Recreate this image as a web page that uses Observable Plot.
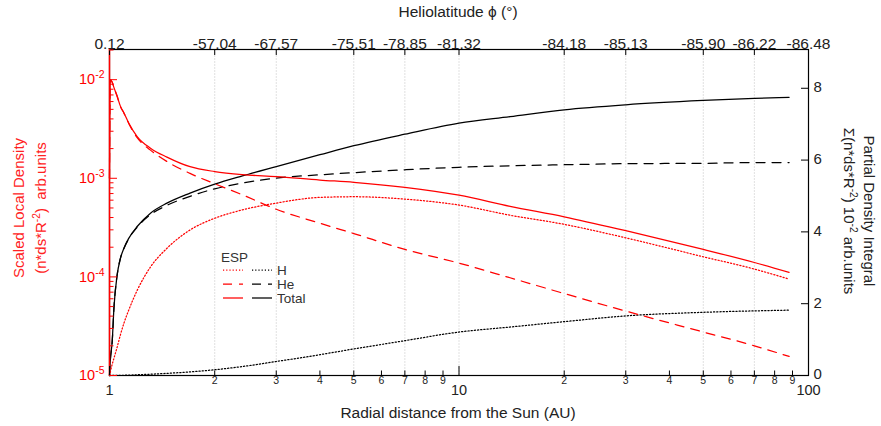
<!DOCTYPE html>
<html>
<head>
<meta charset="utf-8">
<script src="https://cdn.jsdelivr.net/npm/d3@7"></script>
<script src="https://cdn.jsdelivr.net/npm/@observablehq/plot@0.6"></script>
<style>
  body { margin: 0; background: #fff; }
  #chart { width: 881px; height: 426px; }
  #chart svg { display: block; }
</style>
</head>
<body>
<div id="chart"></div>
<script>
// Radial distance grid (AU) shared by every series
const radius = [1.0, 1.005, 1.018, 1.03, 1.05, 1.075, 1.1, 1.135, 1.2, 1.31, 1.46, 1.7,
                2.0, 2.4, 3.0, 4.0, 5.0, 7.0, 10, 14, 20, 30, 50, 70, 88];

// Scaled local density n*ds*R^-2 (left, log axis)
const densityH = [1.0e-5, 1.08e-5, 1.3e-5, 1.5e-5, 1.9e-5, 2.6e-5, 3.4e-5, 4.6e-5, 7.3e-5, 1.26e-4, 1.95e-4, 2.99e-4,
                  3.93e-4, 4.78e-4, 5.6e-4, 6.4e-4, 6.5e-4, 6.15e-4, 5.35e-4, 4.22e-4, 3.41e-4, 2.49e-4, 1.60e-4, 1.20e-4, 9.5e-5];
const densityHe = [1.0e-3, 1.0e-2, 9.4e-3, 8.3e-3, 6.9e-3, 5.33e-3, 4.57e-3, 3.6e-3, 2.58e-3, 1.93e-3, 1.48e-3, 1.12e-3,
                   8.8e-4, 6.8e-4, 4.85e-4, 3.5e-4, 2.75e-4, 1.9e-4, 1.38e-4, 9.8e-5, 6.78e-5, 4.5e-5, 2.76e-5, 2.0e-5, 1.56e-5];
const densityTotal = [1.0e-3, 1.0e-2, 9.4e-3, 8.3e-3, 6.9e-3, 5.36e-3, 4.6e-3, 3.64e-3, 2.65e-3, 2.02e-3, 1.64e-3, 1.31e-3,
                      1.17e-3, 1.09e-3, 1.04e-3, 9.6e-4, 9.1e-4, 8.1e-4, 6.75e-4, 5.2e-4, 4.07e-4, 2.94e-4, 1.90e-4, 1.40e-4, 1.11e-4];

// Partial density integral, units of 10^-2 (right, linear axis)
const integralH = [0, 0, 0.001, 0.002, 0.003, 0.005, 0.007, 0.01, 0.02, 0.035, 0.06, 0.1,
                   0.16, 0.25, 0.39, 0.58, 0.74, 0.97, 1.21, 1.35, 1.50, 1.66, 1.76, 1.80, 1.82];
const integralHe = [0, 0.4, 0.95, 1.9, 2.75, 3.27, 3.54, 3.81, 4.13, 4.48, 4.74, 4.99,
                    5.20, 5.36, 5.50, 5.59, 5.65, 5.73, 5.80, 5.84, 5.87, 5.90, 5.91, 5.93, 5.93];
const integralTotal = [0, 0.4, 0.95, 1.9, 2.75, 3.27, 3.55, 3.82, 4.15, 4.52, 4.80, 5.08,
                       5.33, 5.56, 5.82, 6.15, 6.40, 6.72, 7.03, 7.21, 7.40, 7.54, 7.66, 7.72, 7.75];

// Heliolatitude reached at selected distances (top axis)
const latitudeTicks = [1, 2, 3, 5, 7, 10, 20, 30, 50, 70, 100];
const latitudeLabels = ["0.12", "-57.04", "-67.57", "-75.51", "-78.85", "-81.32",
                        "-84.18", "-85.13", "-85.90", "-86.22", "-86.48"];

// Bottom axis ticks and labels
const radiusMajorTicks = [1, 10, 100];
const radiusMajorLabels = ["1", "10", "100"];
const radiusMinorTicks = [2, 3, 4, 5, 6, 7, 8, 9, 20, 30, 40, 50, 60, 70, 80, 90];
const radiusMinorLabels = ["2", "3", "4", "5", "6", "7", "8", "9", "2", "3", "4", "5", "6", "7", "8", "9"];

// Left and right axis ticks
const densityDecades = [1e-5, 1e-4, 1e-3, 1e-2];
const densityLabels = ["10^-5", "10^-4", "10^-3", "10^-2"];
const integralTicks = [0, 2, 4, 6, 8];
const integralLabels = ["0", "2", "4", "6", "8"];

// Vertical extent of the panel: the log density axis and the linear integral axis share it
const Y_MIN = 1e-5;
const Y_TOP = Math.pow(10, -1.694);
const DECADES = Math.log10(Y_TOP) - Math.log10(Y_MIN);
const INTEGRAL_MAX = 9.08;
const integralToY = v => Math.pow(10, Math.log10(Y_MIN) + v / INTEGRAL_MAX * DECADES);

const densityMinor = densityDecades.flatMap(d => [2, 3, 4, 5, 6, 7, 8, 9].map(k => k * d)).filter(v => v <= Y_TOP);

const RED = "#ff0000";
const INK = "#222";
const dash = {H: "1.2,2", He: "9,7", Total: null};

function series(values, species, toY) {
  return radius.map((r, i) => ({r, y: toY(values[i]), species}));
}
const densitySeries = [
  series(densityH, "H", v => v),
  series(densityHe, "He", v => v),
  series(densityTotal, "Total", v => v)
];
const integralSeries = [
  series(integralH, "H", integralToY),
  series(integralHe, "He", integralToY),
  series(integralTotal, "Total", integralToY)
];

const lineMark = (d, color) => Plot.line(d, {
  x: "r", y: "y", stroke: color, strokeWidth: 1.25,
  strokeDasharray: dash[d[0].species], curve: "monotone-x"
});

// inward tick marks: the tick is drawn outward from the frame, then shifted back inside
const ticksX = (values, anchor, size) => Plot.axisX(values, {
  anchor, tickSize: size, dy: anchor === "bottom" ? -size : size,
  tickFormat: () => "", label: null, color: "#000"
});
const ticksY = (values, anchor, size, color) => Plot.axisY(values, {
  anchor, tickSize: size, dx: anchor === "left" ? size : -size,
  tickFormat: () => "", label: null, color
});

const FONT = "'Liberation Sans', Arial, Helvetica, sans-serif";

const svg = Plot.plot({
  width: 881,
  height: 426,
  marginLeft: 109,
  marginRight: 73,
  marginTop: 49,
  marginBottom: 51,
  x: {type: "log", domain: [1, 100]},
  y: {type: "log", domain: [Y_MIN, Y_TOP]},
  style: {fontFamily: FONT, background: "#fff", color: INK},
  marks: [
    // light vertical grid at the heliolatitude ticks
    Plot.ruleX(latitudeTicks.slice(1, -1), {stroke: "#d9d9d9", strokeWidth: 0.8, strokeDasharray: "2,1"}),
    ...integralSeries.map(d => lineMark(d, "#000")),
    ...densitySeries.map(d => lineMark(d, RED)),
    Plot.frame({stroke: "#000", strokeWidth: 1.2}),
    Plot.ruleX([1], {stroke: RED, strokeWidth: 1.5}),

    // top axis: heliolatitude
    ticksX(latitudeTicks, "top", 5),
    Plot.text(latitudeTicks, {x: d => d, text: (d, i) => latitudeLabels[i], frameAnchor: "top",
      dy: -12, fontSize: 15.5, fill: INK}),

    // bottom axis: radial distance
    ticksX(radiusMinorTicks, "bottom", 4.5),
    ticksX(radiusMajorTicks, "bottom", 9),
    Plot.text(radiusMinorTicks, {x: d => d, text: (d, i) => radiusMinorLabels[i], frameAnchor: "bottom",
      dy: 8, fontSize: 10.5, fill: INK}),
    Plot.text(radiusMajorTicks, {x: d => d, text: (d, i) => radiusMajorLabels[i], frameAnchor: "bottom",
      dy: 19.5, fontSize: 14.5, fill: INK}),

    // left axis: density (red, log)
    ticksY(densityDecades, "left", 8, RED),
    ticksY(densityMinor, "left", 4.5, RED),
    Plot.text(densityDecades, {y: d => d, text: (d, i) => densityLabels[i], frameAnchor: "left",
      textAnchor: "end", dx: -5, fontSize: 14.5, fill: RED}),

    // right axis: integral (linear values placed on the shared panel)
    ticksY(integralTicks.map(integralToY), "right", 8, "#000"),
    Plot.text(integralTicks, {y: d => integralToY(d), text: (d, i) => integralLabels[i], frameAnchor: "right",
      textAnchor: "start", dx: 5, dy: -1, fontSize: 15, fill: INK})
  ]
});

document.getElementById("chart").appendChild(svg);

const root = d3.select(svg);

// exponents written as raised text
root.selectAll("text").each(function () {
  const m = /^(.*)\^(-?\d+)$/.exec(this.textContent);
  if (!m) return;
  const t = d3.select(this);
  t.text("");
  t.append("tspan").text(m[1]);
  t.append("tspan").attr("dy", "-6").attr("font-size", "10.5").text(m[2]);
});

// text with superscripts, built from pieces: [text, isSuperscript]
function richText(sel, parts, size) {
  parts.forEach(([s, sup], i) => {
    const prevSup = i > 0 && parts[i - 1][1];
    const ts = sel.append("tspan").text(s);
    if (sup) ts.attr("dy", -6).attr("font-size", size * 0.68);
    else if (prevSup) ts.attr("dy", 6);
  });
  return sel;
}

const titles = root.append("g").attr("font-family", FONT).style("white-space", "pre");

titles.append("text")
  .attr("x", 458).attr("y", 12).attr("dy", "0.35em")
  .attr("text-anchor", "middle").attr("font-size", 15.5).attr("fill", INK)
  .text("Heliolatitude \u03D5 (\u00B0)");

titles.append("text")
  .attr("x", 458).attr("y", 413).attr("dy", "0.35em")
  .attr("text-anchor", "middle").attr("font-size", 15.5).attr("fill", INK)
  .text("Radial distance from the Sun (AU)");

titles.append("text")
  .attr("transform", "translate(19,208) rotate(-90)").attr("dy", "0.35em")
  .attr("text-anchor", "middle").attr("font-size", 15).attr("fill", "#f22")
  .text("Scaled Local Density");
richText(titles.append("text")
  .attr("transform", "translate(41,208) rotate(-90)").attr("dy", "0.35em")
  .attr("text-anchor", "middle").attr("font-size", 15).attr("fill", "#f22"),
  [["(n*ds*R", false], ["-2", true], [")  arb.units", false]], 15);

titles.append("text")
  .attr("transform", "translate(869,211) rotate(90)").attr("dy", "0.35em")
  .attr("text-anchor", "middle").attr("font-size", 15).attr("fill", INK)
  .text("Partial Density Integral");
richText(titles.append("text")
  .attr("transform", "translate(849,211) rotate(90)").attr("dy", "0.35em")
  .attr("text-anchor", "middle").attr("font-size", 15).attr("fill", INK),
  [["\u03A3(n*ds*R", false], ["-2", true], [") 10", false], ["-2", true], [" arb.units", false]], 15);

// legend
const legendRows = [["H", "H"], ["He", "He"], ["Total", "Total"]];
const legend = root.append("g").attr("font-family", FONT).attr("font-size", 13.5)
  .attr("fill", "#333").attr("text-anchor", "start");
legend.append("text").attr("x", 221).attr("y", 257).attr("dy", "0.35em").text("ESP");
legendRows.forEach(([key, label], i) => {
  const y = 270 + i * 14;
  legend.append("line").attr("x1", 223).attr("x2", 243).attr("y1", y).attr("y2", y)
    .attr("stroke", RED).attr("stroke-width", 1.25).attr("stroke-dasharray", dash[key]);
  legend.append("line").attr("x1", 252).attr("x2", 272).attr("y1", y).attr("y2", y)
    .attr("stroke", "#000").attr("stroke-width", 1.25).attr("stroke-dasharray", dash[key]);
  legend.append("text").attr("x", 277).attr("y", y).attr("dy", "0.35em").text(label);
});
</script>
</body>
</html>
